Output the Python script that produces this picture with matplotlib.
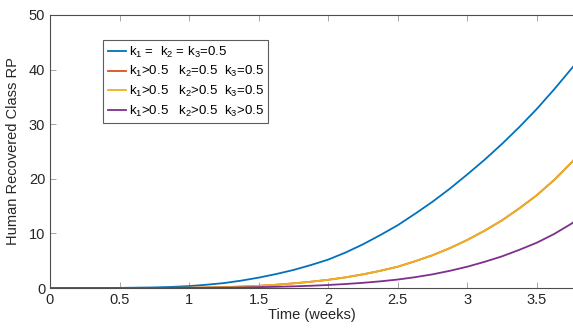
import matplotlib
matplotlib.use("Agg")
import matplotlib.pyplot as plt

plt.rcParams['font.family'] = ['Liberation Sans', 'DejaVu Sans']
plt.rcParams['mathtext.default'] = 'regular'

t = [0, 0.25, 0.5, 0.75, 0.875,
     1.0, 1.125, 1.25, 1.375, 1.5, 1.625, 1.75, 1.875, 2.0, 2.125, 2.25, 2.375,
     2.5, 2.625, 2.75, 2.875, 3.0, 3.125, 3.25, 3.375, 3.5, 3.625, 3.75, 3.76]
rp_all_equal = [0, 0, 0.02, 0.1, 0.2,
                0.35, 0.6, 0.9, 1.35, 1.9, 2.55, 3.3, 4.2, 5.2, 6.5, 8.0, 9.7,
                11.5, 13.6, 15.8, 18.2, 20.8, 23.5, 26.4, 29.5, 32.8, 36.4, 40.2, 40.5]
rp_k1_gt = [0, 0, 0, 0.01, 0.03,
            0.05, 0.09, 0.15, 0.26, 0.4, 0.6, 0.85, 1.15, 1.5, 1.95, 2.5, 3.15,
            3.9, 4.9, 6.0, 7.3, 8.8, 10.5, 12.4, 14.6, 17.0, 19.8, 23.0, 23.3]
rp_k1k2_gt = [0, 0, 0, 0.01, 0.03,
              0.05, 0.09, 0.15, 0.26, 0.4, 0.6, 0.85, 1.15, 1.5, 1.95, 2.5, 3.15,
              3.9, 4.9, 6.0, 7.3, 8.8, 10.5, 12.4, 14.6, 17.0, 19.8, 23.0, 23.3]
rp_all_gt = [0, 0, 0, 0.005, 0.01,
             0.02, 0.04, 0.06, 0.1, 0.15, 0.22, 0.3, 0.41, 0.55, 0.73, 0.95, 1.22,
             1.55, 1.98, 2.5, 3.15, 3.9, 4.8, 5.8, 7.0, 8.3, 9.9, 11.8, 12.0]

labels = [
    r"k$_1$ =  k$_2$ = k$_3$=0.5",
    r"k$_1$>0.5   k$_2$=0.5  k$_3$=0.5",
    r"k$_1$>0.5   k$_2$>0.5  k$_3$=0.5",
    r"k$_1$>0.5   k$_2$>0.5  k$_3$>0.5",
]
colors = ['#0072BD', '#D95319', '#EDB120', '#7E2F8E']
xticks = [0, 0.5, 1, 1.5, 2, 2.5, 3, 3.5]
yticks = [0, 10, 20, 30, 40, 50]

fig = plt.figure(figsize=(5.73, 3.29), dpi=100)
ax = fig.add_axes([50/573, 1-288/329, 1-50/573, (288-15)/329])

series = [rp_all_equal, rp_k1_gt, rp_k1k2_gt, rp_all_gt]
for s, c, lab in zip(series, colors, labels):
    ax.plot(t, s, color=c, lw=1.3, label=lab)

ax.set_xlim(0, 3.76)
ax.set_ylim(0, 50)
ax.set_xticks(xticks)
ax.set_xticklabels([f"{v:g}" for v in xticks])
ax.set_yticks(yticks)
ax.spines['right'].set_visible(False)
for sp in ['left', 'bottom', 'top']:
    ax.spines[sp].set_color('#4d4d4d')
    ax.spines[sp].set_linewidth(0.8)
ax.tick_params(direction='in', top=True, right=False, length=4, width=0.6,
               color='#999999', labelcolor='#262626', labelsize=10.5)
ax.set_xlabel("Time (weeks)", fontsize=10.5, color='#262626', labelpad=1)
ax.set_ylabel("Human Recovered Class RP", fontsize=10.5, color='#262626', labelpad=6)

leg = ax.legend(loc='upper left', bbox_to_anchor=((103-50)/523, (288-40)/273),
                borderaxespad=0, frameon=True, fancybox=False, fontsize=9.5,
                handlelength=1.4, handletextpad=0.2, labelspacing=0.35,
                borderpad=0.35)
leg.get_frame().set_edgecolor('#333333')
leg.get_frame().set_linewidth(0.8)

fig.savefig("out.png", dpi=100)
